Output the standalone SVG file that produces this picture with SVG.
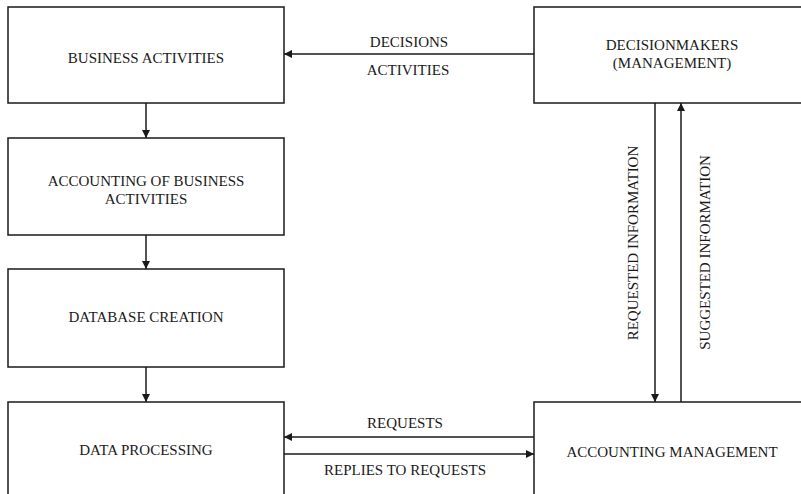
<svg xmlns="http://www.w3.org/2000/svg" width="801" height="494" viewBox="0 0 801 494">
  <defs>
    <style>
      .box { fill: #ffffff; stroke: #1a1a1a; stroke-width: 1.5; }
      .lbl { font-family: "Liberation Serif", "Times New Roman", serif; font-size: 15px; fill: #1a1a1a; text-anchor: middle; }
      .wire { fill: none; stroke: #1a1a1a; stroke-width: 1.5; }
    </style>
    <marker id="head" viewBox="0 0 10 10" refX="10" refY="5" markerWidth="9" markerHeight="8" markerUnits="userSpaceOnUse" orient="auto">
      <path d="M0,0 L10,5 L0,10 Z" fill="#1a1a1a"/>
    </marker>
  </defs>
  <rect width="801" height="494" fill="#ffffff"/>

  <g id="business-activities">
    <rect class="box" x="8" y="7" width="276" height="96"/>
    <text class="lbl" x="146" y="63">BUSINESS ACTIVITIES</text>
  </g>
  <g id="accounting-activities">
    <rect class="box" x="8" y="138" width="276" height="97"/>
    <text class="lbl" x="146" y="186">ACCOUNTING OF BUSINESS</text>
    <text class="lbl" x="146" y="204">ACTIVITIES</text>
  </g>
  <g id="database-creation">
    <rect class="box" x="8" y="269" width="276" height="98"/>
    <text class="lbl" x="146" y="322">DATABASE CREATION</text>
  </g>
  <g id="data-processing">
    <rect class="box" x="8" y="402" width="276" height="100"/>
    <text class="lbl" x="146" y="455">DATA PROCESSING</text>
  </g>
  <g id="decisionmakers">
    <rect class="box" x="534" y="7" width="280" height="96"/>
    <text class="lbl" x="672" y="50">DECISIONMAKERS</text>
    <text class="lbl" x="672" y="68">(MANAGEMENT)</text>
  </g>
  <g id="accounting-management">
    <rect class="box" x="534" y="402" width="280" height="100"/>
    <text class="lbl" x="672" y="457">ACCOUNTING MANAGEMENT</text>
  </g>

  <g id="connectors">
    <line class="wire" x1="146" y1="103" x2="146" y2="138" marker-end="url(#head)"/>
    <line class="wire" x1="146" y1="235" x2="146" y2="269" marker-end="url(#head)"/>
    <line class="wire" x1="146" y1="367" x2="146" y2="402" marker-end="url(#head)"/>
    <line class="wire" x1="534" y1="54" x2="284" y2="54" marker-end="url(#head)"/>
    <line class="wire" x1="655" y1="103" x2="655" y2="402" marker-end="url(#head)"/>
    <line class="wire" x1="681" y1="402" x2="681" y2="103" marker-end="url(#head)"/>
    <line class="wire" x1="534" y1="437" x2="284" y2="437" marker-end="url(#head)"/>
    <line class="wire" x1="284" y1="454" x2="534" y2="454" marker-end="url(#head)"/>
    <text class="lbl" x="409" y="47">DECISIONS</text>
    <text class="lbl" x="408" y="75">ACTIVITIES</text>
    <text class="lbl" x="405" y="428">REQUESTS</text>
    <text class="lbl" x="405" y="475">REPLIES TO REQUESTS</text>
    <text class="lbl" transform="translate(638,243) rotate(-90)">REQUESTED INFORMATION</text>
    <text class="lbl" transform="translate(710,252.5) rotate(-90)">SUGGESTED INFORMATION</text>
  </g>
</svg>
